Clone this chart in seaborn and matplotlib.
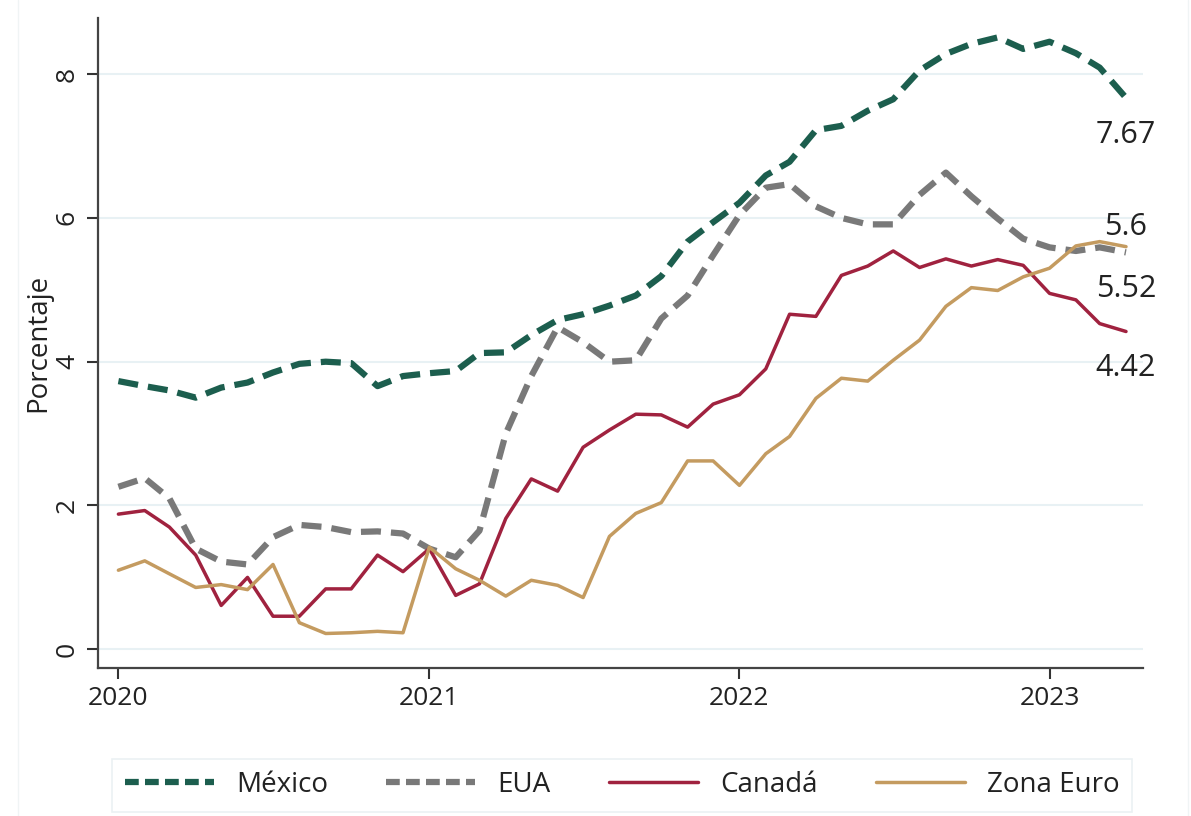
import pandas as pd
import matplotlib.pyplot as plt
import matplotlib.lines as mlines
import seaborn as sns

# monthly core inflation, Jan 2020 - Apr 2023
meses = pd.date_range("2020-01-01", "2023-04-01", freq="MS")

mexico = [3.73, 3.66, 3.60, 3.50, 3.64, 3.71, 3.85, 3.97, 4.00, 3.98, 3.66, 3.80,
          3.84, 3.87, 4.12, 4.13, 4.37, 4.58, 4.66, 4.78, 4.92, 5.19, 5.67, 5.94,
          6.21, 6.59, 6.78, 7.22, 7.28, 7.49, 7.65, 8.05, 8.28, 8.42, 8.51, 8.35,
          8.45, 8.29, 8.09, 7.67]
eua = [2.26, 2.38, 2.10, 1.40, 1.22, 1.18, 1.56, 1.73, 1.70, 1.63, 1.64, 1.61,
       1.40, 1.28, 1.65, 3.00, 3.80, 4.48, 4.27, 4.00, 4.02, 4.60, 4.92, 5.48,
       6.04, 6.42, 6.47, 6.16, 6.00, 5.91, 5.91, 6.32, 6.63, 6.30, 5.99, 5.71,
       5.59, 5.54, 5.59, 5.52]
canada = [1.88, 1.93, 1.70, 1.31, 0.61, 1.00, 0.46, 0.46, 0.84, 0.84, 1.31, 1.08,
          1.40, 0.75, 0.91, 1.82, 2.37, 2.20, 2.81, 3.05, 3.27, 3.26, 3.09, 3.41,
          3.54, 3.90, 4.66, 4.63, 5.20, 5.33, 5.54, 5.31, 5.43, 5.33, 5.42, 5.34,
          4.95, 4.86, 4.53, 4.42]
zona_euro = [1.10, 1.23, 1.05, 0.86, 0.90, 0.83, 1.18, 0.37, 0.22, 0.23, 0.25, 0.23,
             1.42, 1.12, 0.96, 0.74, 0.96, 0.89, 0.72, 1.57, 1.89, 2.04, 2.62, 2.62,
             2.28, 2.72, 2.96, 3.49, 3.77, 3.73, 4.02, 4.30, 4.77, 5.03, 4.99, 5.18,
             5.30, 5.61, 5.67, 5.60]

series = {"México": mexico, "EUA": eua, "Canadá": canada, "Zona Euro": zona_euro}
colores = {"México": "#1c5e4e", "EUA": "#797979", "Canadá": "#a0223f", "Zona Euro": "#c49b60"}
grosor = {"México": 4.5, "EUA": 4.5, "Canadá": 2.5, "Zona Euro": 2.5}
discontinua = {"México": True, "EUA": True, "Canadá": False, "Zona Euro": False}

# end labels (value, vertical offset in points)
etiquetas = {"México": ("7.67", -27), "Zona Euro": ("5.6", 14), "EUA": ("5.52", -26), "Canadá": ("4.42", -26)}

sns.set_style("white")
plt.rcParams["font.family"] = ["Open Sans", "DejaVu Sans"]

fig = plt.figure(figsize=(11.91, 8.16), dpi=100)
ax = fig.add_axes([98 / 1191, 1 - 668 / 816, (1143 - 98) / 1191, (668 - 18) / 816])

handles = []
for nombre, valores in series.items():
    df = pd.DataFrame({"fecha": meses, "valor": valores})
    kw = dict(color=colores[nombre], linewidth=grosor[nombre], ax=ax)
    if discontinua[nombre]:
        kw["dashes"] = (3.2, 1.6)
    sns.lineplot(data=df, x="fecha", y="valor", **kw)
    h = mlines.Line2D([], [], color=colores[nombre], lw=grosor[nombre],
                      linestyle=(0, (2.2, 1.0)) if discontinua[nombre] else "-")
    handles.append(h)

for nombre, (txt, dy) in etiquetas.items():
    ax.annotate(txt, xy=(meses[-1], series[nombre][-1]), xytext=(0, dy),
                textcoords="offset points", ha="center", va="center",
                fontsize=22, color="#222222")

ax.set_ylim(-0.26, 8.78)
ax.set_xlim(pd.Timestamp("2019-12-08"), pd.Timestamp("2023-04-21"))
ax.set_yticks([0, 2, 4, 6, 8])
ax.set_yticklabels(["0", "2", "4", "6", "8"], rotation=90, va="center")
xt = pd.to_datetime(["2020-01-01", "2021-01-01", "2022-01-01", "2023-01-01"])
ax.set_xticks(xt)
ax.set_xticklabels(["2020", "2021", "2022", "2023"])
ax.tick_params(axis="both", labelsize=19, length=8, width=1.5, color="#333333",
               labelcolor="#222222", direction="out", pad=5)
ax.tick_params(axis="x", bottom=True)
ax.tick_params(axis="y", left=True)

ax.grid(axis="y", color="#e8f1f4", linewidth=1.5)
ax.grid(axis="x", visible=False)
ax.set_xlabel("")
ax.set_ylabel("Porcentaje", fontsize=20, color="#222222", labelpad=2)

sns.despine(ax=ax)
for s in ["left", "bottom"]:
    ax.spines[s].set_color("#444444")
    ax.spines[s].set_linewidth(1.6)

leg = fig.legend(handles, list(series.keys()), loc="center",
                 bbox_to_anchor=(622 / 1191, 1 - 785 / 816), ncol=4,
                 fontsize=20, frameon=True, handlelength=3.2, columnspacing=2.1,
                 handletextpad=0.8, borderpad=0.45, fancybox=False)
leg.get_frame().set_edgecolor("#e6eef0")
leg.get_frame().set_linewidth(1.2)
for t in leg.get_texts():
    t.set_color("#222222")

# faint outer frame
fig.add_artist(mlines.Line2D([18 / 1191, 18 / 1191], [0, 1], color="#f0f4f5", lw=1))
fig.add_artist(mlines.Line2D([1188 / 1191, 1188 / 1191], [0, 1], color="#f0f4f5", lw=1))

fig.savefig("out.png", dpi=100)
